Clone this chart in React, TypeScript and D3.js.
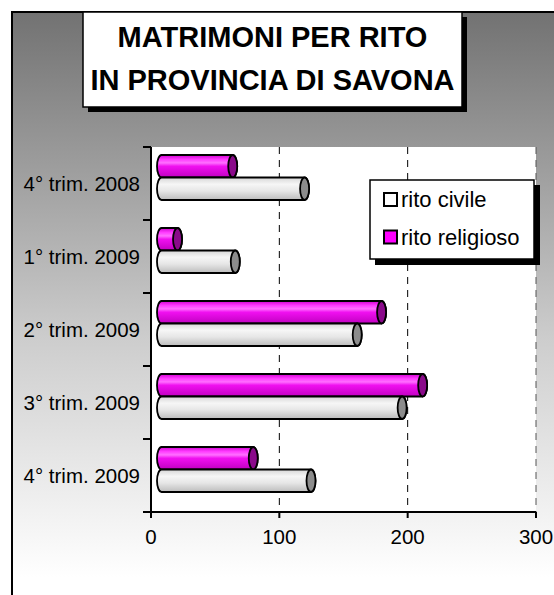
import React from "react";
import * as d3 from "d3";

const categories = [
  "4° trim. 2008",
  "1° trim. 2009",
  "2° trim. 2009",
  "3° trim. 2009",
  "4° trim. 2009",
];
const ritoCivile = [115, 61, 156, 191, 120];
const ritoReligioso = [59, 16, 175, 207, 75];
const xTicks = [0, 100, 200, 300];
const titleLines = ["MATRIMONI PER RITO", "IN PROVINCIA DI SAVONA"];
const seriesNames = ["rito civile", "rito religioso"];

const W = 554;
const H = 595;
const FONT = "Arial, 'Liberation Sans', Helvetica, sans-serif";

export default function App() {
  const plot = { left: 151, right: 536, top: 147, bottom: 512 };
  const x = d3.scaleLinear().domain([0, 300]).range([plot.left, plot.right]);
  const y = d3
    .scaleBand<string>()
    .domain(categories)
    .range([plot.top, plot.bottom]);

  const depth = 6;
  const barH = 22.5;
  const rx = 4.5;

  // cilindro orizzontale
  const cylinder = (x0: number, x1: number, top: number, h: number) => {
    const bottom = top + h;
    const ry = h / 2;
    return `M${x0},${top} L${x1},${top} A${rx},${ry} 0 0 1 ${x1},${bottom} L${x0},${bottom} A${rx},${ry} 0 0 1 ${x0},${top} Z`;
  };

  const series = [
    { name: seriesNames[1], values: ritoReligioso, grad: "gMag", cap: "#8a0a8a", swatch: "#ff00ff", offset: 8 },
    { name: seriesNames[0], values: ritoCivile, grad: "gGray", cap: "#8c8c8c", swatch: "#ffffff", offset: 8 + barH },
  ];

  return (
    <svg
      width={W}
      height={H}
      style={{ position: "absolute", left: 0, top: 0 }}
      fontFamily={FONT}
    >
      <defs>
        <linearGradient id="bg" x1="0" y1="0" x2="0" y2="1">
          <stop offset="0" stopColor="#727272" />
          <stop offset="0.55" stopColor="#cdcdcd" />
          <stop offset="0.95" stopColor="#ffffff" />
        </linearGradient>
        <linearGradient id="gMag" x1="0" y1="0" x2="0" y2="1">
          <stop offset="0" stopColor="#d000d0" />
          <stop offset="0.2" stopColor="#ff3cff" />
          <stop offset="0.35" stopColor="#ff70ff" />
          <stop offset="0.5" stopColor="#f010f0" />
          <stop offset="1" stopColor="#c000c0" />
        </linearGradient>
        <linearGradient id="gGray" x1="0" y1="0" x2="0" y2="1">
          <stop offset="0" stopColor="#d6d6d6" />
          <stop offset="0.3" stopColor="#f6f6f6" />
          <stop offset="0.6" stopColor="#e6e6e6" />
          <stop offset="1" stopColor="#bcbcbc" />
        </linearGradient>
      </defs>

      <rect x={12} y={12} width={W} height={H} fill="url(#bg)" stroke="#000" strokeWidth={2} />

      {/* area del grafico */}
      <rect
        x={plot.left}
        y={plot.top}
        width={plot.right - plot.left}
        height={plot.bottom - plot.top}
        fill="#fff"
      />
      {xTicks.slice(1).map((t) => (
        <line
          key={"g" + t}
          x1={x(t)}
          x2={x(t)}
          y1={plot.top}
          y2={plot.bottom}
          stroke={t === 300 ? "#555" : "#000"}
          strokeWidth={1}
          strokeDasharray="7,6"
        />
      ))}

      {/* barre */}
      {series.map((s) =>
        categories.map((c, i) => {
          const top = (y(c) as number) + s.offset;
          const x0 = x(0) + depth + rx;
          const x1 = x(s.values[i]) + depth;
          return (
            <g key={s.name + c}>
              <path d={cylinder(x0, x1, top, barH)} fill={`url(#${s.grad})`} stroke="#000" strokeWidth={1.8} />
              <ellipse cx={x1} cy={top + barH / 2} rx={rx} ry={barH / 2} fill={s.cap} stroke="#000" strokeWidth={1.8} />
            </g>
          );
        })
      )}

      {/* assi */}
      <line x1={plot.left} x2={plot.left} y1={plot.top} y2={plot.bottom + 6} stroke="#000" strokeWidth={2} />
      <line x1={plot.left - 8} x2={plot.right} y1={plot.bottom} y2={plot.bottom} stroke="#000" strokeWidth={2} />
      {[...categories.map((c) => y(c) as number), plot.bottom].map((v, i) => (
        <line key={"yt" + i} x1={plot.left - 8} x2={plot.left} y1={v} y2={v} stroke="#000" strokeWidth={2} />
      ))}
      {xTicks.map((t) => (
        <g key={"xt" + t}>
          <line x1={x(t)} x2={x(t)} y1={plot.bottom} y2={plot.bottom + 6} stroke="#000" strokeWidth={2} />
          <text x={x(t)} y={544} fontSize={20.5} textAnchor="middle" fill="#000">
            {t}
          </text>
        </g>
      ))}
      {categories.map((c) => (
        <text
          key={"lab" + c}
          x={140}
          y={(y(c) as number) + y.bandwidth() / 2 + 7}
          fontSize={20.5}
          textAnchor="end"
          fill="#000"
        >
          {c}
        </text>
      ))}

      {/* legenda */}
      <rect x={375} y={185} width={165} height={80} fill="#000" />
      <rect x={370} y={180} width={164} height={79} fill="#fff" stroke="#000" strokeWidth={1.5} />
      {[series[1], series[0]].map((s, i) => (
        <g key={"leg" + s.name}>
          <rect x={384} y={193 + i * 37.5} width={13} height={13} fill={s.swatch} stroke="#000" strokeWidth={2} />
          <text x={401} y={207 + i * 37.5} fontSize={22} fill="#000">
            {s.name}
          </text>
        </g>
      ))}

      {/* titolo */}
      <rect x={88} y={17} width={379} height={95} fill="#000" />
      <rect x={83} y={12} width={379} height={95} fill="#fff" stroke="#000" strokeWidth={1.5} />
      {titleLines.map((t, i) => (
        <text key={t} x={272.5} y={47 + i * 43} fontSize={29} fontWeight="bold" textAnchor="middle" fill="#000">
          {t}
        </text>
      ))}
    </svg>
  );
}
